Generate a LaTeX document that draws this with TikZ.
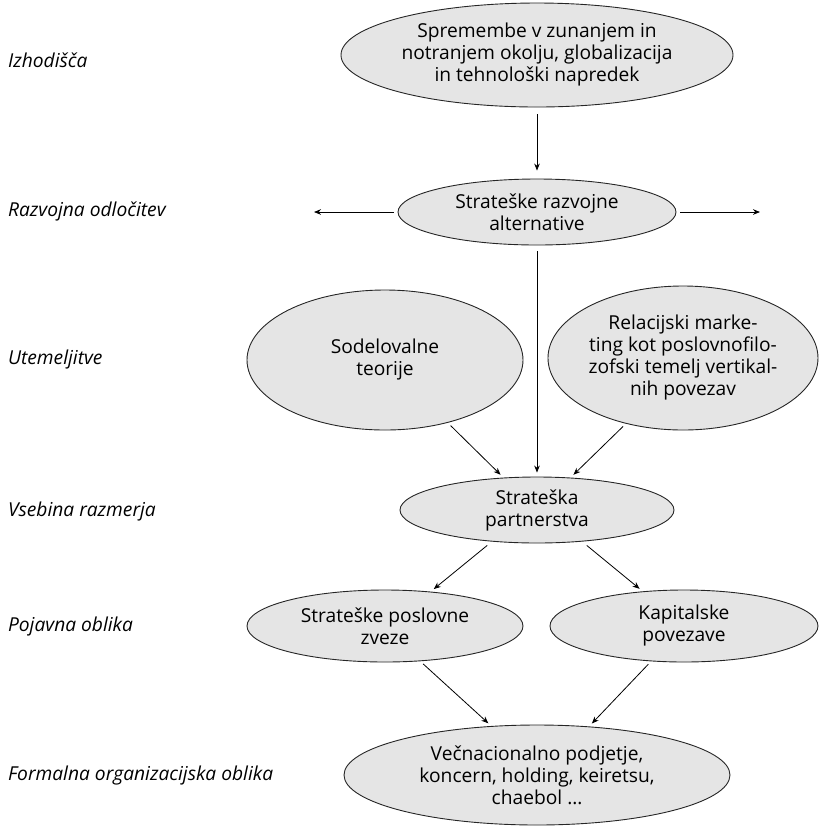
\documentclass[tikz,border=0pt]{standalone}
\usepackage{fontspec}
\setmainfont{Open Sans}
\usetikzlibrary{shapes.geometric,arrows.meta}

\begin{document}
\begin{tikzpicture}[x=0.5pt,y=-0.5pt,
    font=\fontsize{9.6}{11}\selectfont,
    oval/.style={ellipse,draw=black!85,fill=black!10,line width=0.45pt,inner sep=0pt,align=center},
    level/.style={anchor=west,font=\fontsize{9.6}{11}\selectfont\itshape},
    link/.style={-{Stealth[length=3.5pt,width=2.8pt]},line width=0.4pt,shorten >=2pt,shorten <=2pt}]
  \useasboundingbox (0,0) rectangle (820,827);

  % Levels on the left
  \node[level] (izh) at (1,60) {Izhodišča};
  \node[level] (odl) at (1,211) {Razvojna odločitev};
  \node[level] (ute) at (1,360) {Utemeljitve};
  \node[level] (vse) at (1,512) {Vsebina razmerja};
  \node[level] (poj) at (1,627) {Pojavna oblika};
  \node[level] (for) at (1,776) {Formalna organizacijska oblika};

  % Ellipses
  \node[oval,minimum width=196pt,minimum height=52pt] (spr) at (537,55) {Spremembe v zunanjem in\\notranjem okolju, globalizacija\\in tehnološki napredek};
  \node[oval,minimum width=139pt,minimum height=33pt] (alt) at (537,212) {Strateške razvojne\\alternative};
  \node[oval,minimum width=138pt,minimum height=70pt] (sod) at (385,360) {Sodelovalne\\teorije};
  \node[oval,minimum width=135pt,minimum height=72pt] (rel) at (683,358) {Relacijski marke-\\ting kot poslovnofilo-\\zofski temelj vertikal-\\nih povezav};
  \node[oval,minimum width=137pt,minimum height=33pt] (par) at (537,510) {Strateška\\partnerstva};
  \node[oval,minimum width=138pt,minimum height=36pt] (zve) at (385,626) {Strateške poslovne\\zveze};
  \node[oval,minimum width=134pt,minimum height=36pt] (kap) at (684,626) {Kapitalske\\povezave};
  \node[oval,minimum width=193pt,minimum height=50pt] (vec) at (537,775) {Večnacionalno podjetje,\\koncern, holding, keiretsu,\\chaebol \dots};

  % Free ends
  \coordinate (lft) at (310,212);
  \coordinate (rgt) at (764,212);

  % Connectors
  \draw[link,shorten >=4pt,shorten <=3.5pt] (spr) -- (alt);
  \draw[link] (alt.west) -- (lft);
  \draw[link] (alt.east) -- (rgt);
  \draw[link,shorten <=3pt] (alt) -- (par);
  \draw[link] (sod.-45) -- (par.136);
  \draw[link] (rel.-131) -- (par.44);
  \draw[link,shorten <=3pt] (par.-145) -- (zve.37);
  \draw[link,shorten <=3pt] (par.-35) -- (kap.140);
  \draw[link] (zve.-45) -- (vec.133);
  \draw[link] (kap.-133) -- (vec.43);
\end{tikzpicture}
\end{document}
